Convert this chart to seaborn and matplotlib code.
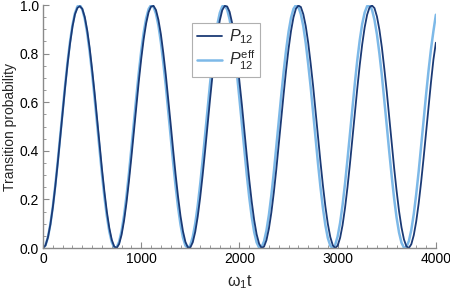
import numpy as np
import pandas as pd
import matplotlib
matplotlib.use("Agg")
import matplotlib.pyplot as plt
from matplotlib.ticker import MultipleLocator, FormatStrFormatter
import seaborn as sns

# time axis (omega_1 t), sampled every 25
t = np.arange(0, 4001, 25)

# P12 (full dynamics)
p12 = [
    0.0000, 0.0111, 0.0439, 0.0970, 0.1680, 0.2537, 0.3502, 0.4536, 0.5590, 0.6617,
    0.7576, 0.8415, 0.9110, 0.9615, 0.9880, 0.9950, 0.9841, 0.9508, 0.8956, 0.8228,
    0.7342, 0.6392, 0.5337, 0.4287, 0.3261, 0.2326, 0.1493, 0.0827, 0.0341, 0.0064,
    0.0006, 0.0170, 0.0549, 0.1125, 0.1873, 0.2761, 0.3745, 0.4790, 0.5842, 0.6853,
    0.7786, 0.8598, 0.9242, 0.9704, 0.9934, 0.9966, 0.9797, 0.9391, 0.8800, 0.8024,
    0.7137, 0.6137, 0.5093, 0.4037, 0.3031, 0.2111, 0.1318, 0.0691, 0.0255, 0.0030,
    0.0026, 0.0242, 0.0670, 0.1290, 0.2075, 0.2989, 0.3991, 0.5043, 0.6092, 0.7087,
    0.7994, 0.8771, 0.9368, 0.9788, 0.9963, 0.9941, 0.9719, 0.9269, 0.8629, 0.7816,
    0.6873, 0.5889, 0.4840, 0.3792, 0.2801, 0.1908, 0.1152, 0.0568, 0.0182, 0.0009,
    0.0058, 0.0326, 0.0802, 0.1464, 0.2284, 0.3223, 0.4245, 0.5297, 0.6336, 0.7318,
    0.8193, 0.8929, 0.9489, 0.9846, 0.9977, 0.9920, 0.9625, 0.9135, 0.8450, 0.7598,
    0.6671, 0.5624, 0.4578, 0.3543, 0.2574, 0.1712, 0.0996, 0.0455, 0.0120, 0.0000,
    0.0102, 0.0422, 0.0945, 0.1648, 0.2500, 0.3462, 0.4495, 0.5547, 0.6575, 0.7537,
    0.8384, 0.9079, 0.9599, 0.9907, 0.9979, 0.9872, 0.9528, 0.8984, 0.8262, 0.7381,
    0.6433, 0.5379, 0.4329, 0.3301, 0.2362, 0.1524, 0.0851, 0.0356, 0.0071, 0.0004,
    0.0160, 0.0530, 0.1098, 0.1840, 0.2722, 0.3704, 0.4748, 0.5798, 0.6812, 0.7750,
    0.8450,
]

# P12 effective model
p12_eff = [
    0.0000, 0.0113, 0.0447, 0.0988, 0.1710, 0.2581, 0.3562, 0.4606, 0.5670, 0.6699,
    0.7658, 0.8495, 0.9176, 0.9662, 0.9938, 0.9992, 0.9822, 0.9430, 0.8844, 0.8074,
    0.7181, 0.6179, 0.5125, 0.4059, 0.3043, 0.2113, 0.1313, 0.0682, 0.0247, 0.0026,
    0.0031, 0.0260, 0.0704, 0.1342, 0.2147, 0.3079, 0.4098, 0.5162, 0.6218, 0.7212,
    0.8109, 0.8866, 0.9450, 0.9831, 0.9995, 0.9930, 0.9642, 0.9157, 0.8468, 0.7612,
    0.6676, 0.5620, 0.4563, 0.3519, 0.2543, 0.1679, 0.0963, 0.0430, 0.0104, 0.0000,
    0.0122, 0.0465, 0.1013, 0.1742, 0.2618, 0.3602, 0.4649, 0.5713, 0.6739, 0.7695,
    0.8525, 0.9200, 0.9675, 0.9945, 0.9989, 0.9811, 0.9410, 0.8818, 0.8041, 0.7144,
    0.6137, 0.5082, 0.4017, 0.3004, 0.2077, 0.1284, 0.0661, 0.0234, 0.0022, 0.0036,
    0.0274, 0.0726, 0.1372, 0.2182, 0.3118, 0.4141, 0.5204, 0.6259, 0.7250, 0.8143,
    0.8895, 0.9470, 0.9841, 0.9996, 0.9921, 0.9626, 0.9131, 0.8437, 0.7575, 0.6633,
    0.5578, 0.4521, 0.3479, 0.2506, 0.1647, 0.0938, 0.0413, 0.0096, 0.0001, 0.0132,
    0.0483, 0.1039, 0.1775, 0.2655, 0.3643, 0.4691, 0.5755, 0.6779, 0.7731, 0.8556,
    0.9223, 0.9689, 0.9952, 0.9987, 0.9800, 0.9389, 0.8791, 0.8007, 0.7107, 0.6095,
    0.5040, 0.3975, 0.2965, 0.2042, 0.1256, 0.0640, 0.0221, 0.0018, 0.0041, 0.0288,
    0.0748, 0.1401, 0.2217, 0.3157, 0.4184, 0.5247, 0.6301, 0.7288, 0.8177, 0.8922,
    0.9600,
]

DARK = "#1b3a75"
LIGHT = "#7db9e8"

sns.set_theme(style="ticks")
plt.rcParams["font.family"] = ["Liberation Sans", "DejaVu Sans"]
plt.rcParams["mathtext.fontset"] = "custom"
plt.rcParams["mathtext.rm"] = "Liberation Sans"
plt.rcParams["mathtext.it"] = "Liberation Sans:italic"

df = pd.DataFrame({"t": t, "p12": p12, "p12_eff": p12_eff})

fig = plt.figure(figsize=(4.5, 2.95), dpi=100)
ax = fig.add_axes([0.0956, 0.159, 0.873, 0.824])

sns.lineplot(data=df, x="t", y="p12_eff", ax=ax, color=LIGHT, lw=1.8,
             label=r"$P_{12}^{\mathrm{eff}}$")
sns.lineplot(data=df, x="t", y="p12", ax=ax, color=DARK, lw=1.3,
             label=r"$P_{12}$")

ax.set_xlim(0, 4000)
ax.set_ylim(0, 1.0)
ax.xaxis.set_major_locator(MultipleLocator(1000))
ax.xaxis.set_minor_locator(MultipleLocator(100))
ax.yaxis.set_major_locator(MultipleLocator(0.2))
ax.yaxis.set_minor_locator(MultipleLocator(0.05))
ax.yaxis.set_major_formatter(FormatStrFormatter("%.1f"))

sns.despine(ax=ax)
for s in ["left", "bottom"]:
    ax.spines[s].set_color("#8a8a8a")
    ax.spines[s].set_linewidth(1.0)
ax.tick_params(which="both", direction="in", color="#8a8a8a", labelsize=10,
               labelcolor="black", pad=3)
ax.tick_params(which="major", length=4, width=0.8)
ax.tick_params(which="minor", length=2, width=0.6)

ax.set_xlabel(r"$\mathrm{\omega_1 t}$", fontsize=11.5, labelpad=5)
ax.set_ylabel("Transition probability", fontsize=10, labelpad=2)

h, l = ax.get_legend_handles_labels()
leg = ax.legend(h[::-1], l[::-1], loc="upper left", bbox_to_anchor=(0.379, 0.926),
                borderaxespad=0, fancybox=False, framealpha=1, edgecolor="#b0b0b0",
                fontsize=11.5, handlelength=1.6, handletextpad=0.4, labelspacing=0.15,
                borderpad=0.3)
leg.get_frame().set_linewidth(0.8)

fig.savefig("out.png", dpi=100)
